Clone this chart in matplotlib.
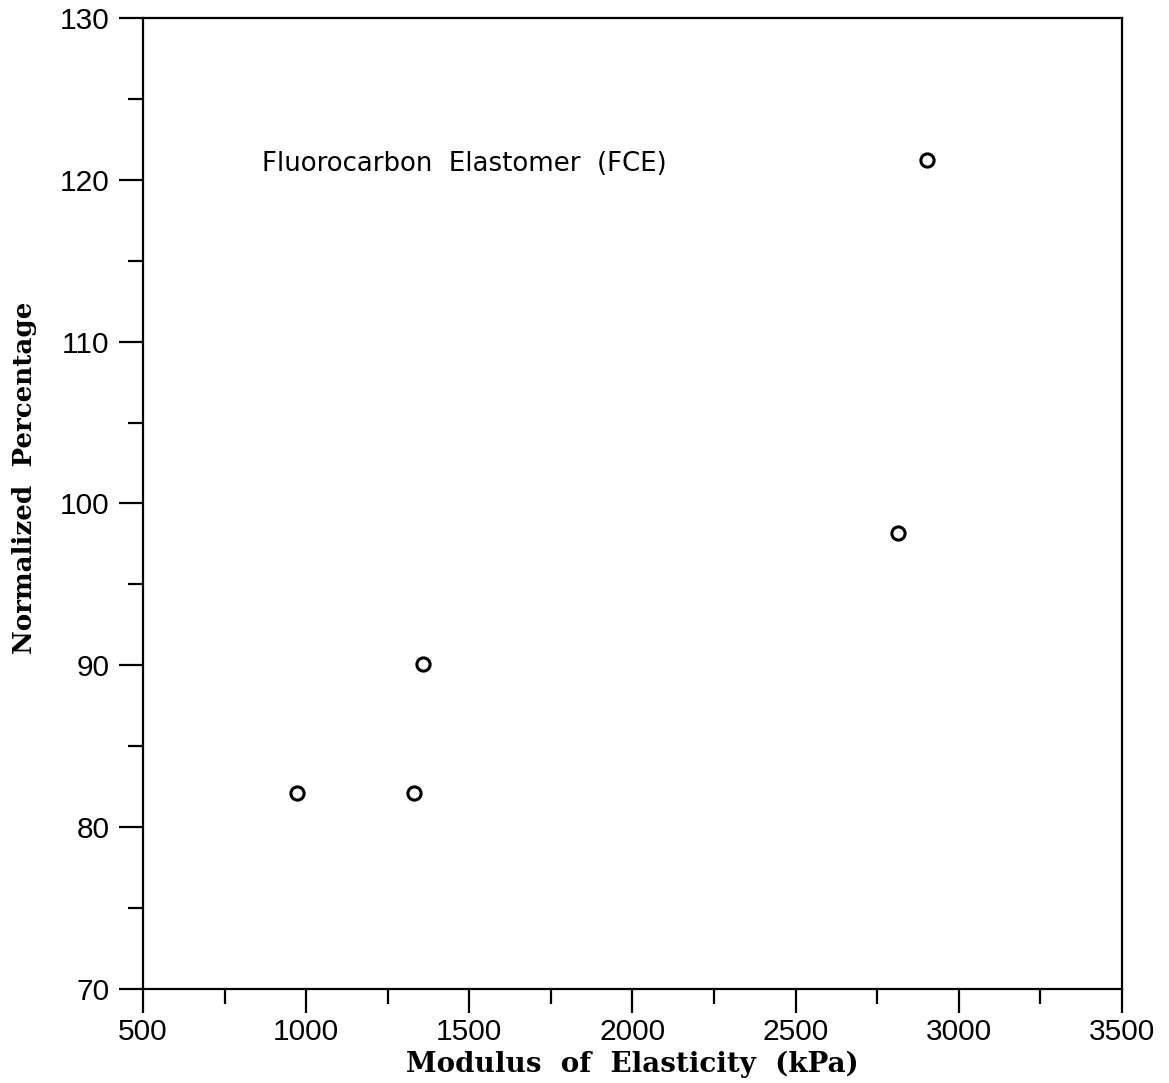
import matplotlib
matplotlib.use("Agg")
import matplotlib.pyplot as plt
from matplotlib.ticker import MultipleLocator

# Measured samples: modulus of elasticity (kPa) vs normalized percentage
modulus_kpa = [972, 1330, 1358, 2813, 2902]
normalized_pct = [82.1, 82.1, 90.1, 98.2, 121.2]

x_ticks = [500, 1000, 1500, 2000, 2500, 3000, 3500]
y_ticks = [70, 80, 90, 100, 110, 120, 130]

fig = plt.figure(figsize=(11.69, 10.83), dpi=100)
ax = fig.add_axes([0.1223, 0.0868, 0.8375, 0.8966])

ax.plot(modulus_kpa, normalized_pct, linestyle="none", marker="o",
        markersize=9.5, markerfacecolor="white", markeredgecolor="black",
        markeredgewidth=2.2, clip_on=False)

ax.set_xlim(500, 3500)
ax.set_ylim(70, 130)
ax.set_xticks(x_ticks)
ax.set_yticks(y_ticks)
ax.xaxis.set_minor_locator(MultipleLocator(250))
ax.yaxis.set_minor_locator(MultipleLocator(5))

for s in ax.spines.values():
    s.set_linewidth(1.6)

ax.tick_params(axis="both", which="major", direction="out", length=17,
               width=1.6, pad=4, labelsize=21.5)
ax.tick_params(axis="both", which="minor", direction="out", length=11,
               width=1.6)
ax.tick_params(axis="y", which="major", pad=7)
for lab in ax.get_xticklabels() + ax.get_yticklabels():
    lab.set_fontfamily("Liberation Sans")

ax.text(865, 121.0, "Fluorocarbon  Elastomer  (FCE)", fontsize=18.7,
        family="DejaVu Sans", va="center", ha="left")

ax.set_xlabel("Modulus  of  Elasticity  (kPa)", fontsize=20,
              family="DejaVu Serif", fontweight="bold", va="center")
ax.xaxis.set_label_coords(0.5, -0.078)
ax.set_ylabel("Normalized  Percentage", fontsize=18.8,
              family="DejaVu Serif", fontweight="bold", va="center")
ax.yaxis.set_label_coords(-0.1215, 0.526)

fig.savefig("out.png", dpi=100, facecolor="white")
